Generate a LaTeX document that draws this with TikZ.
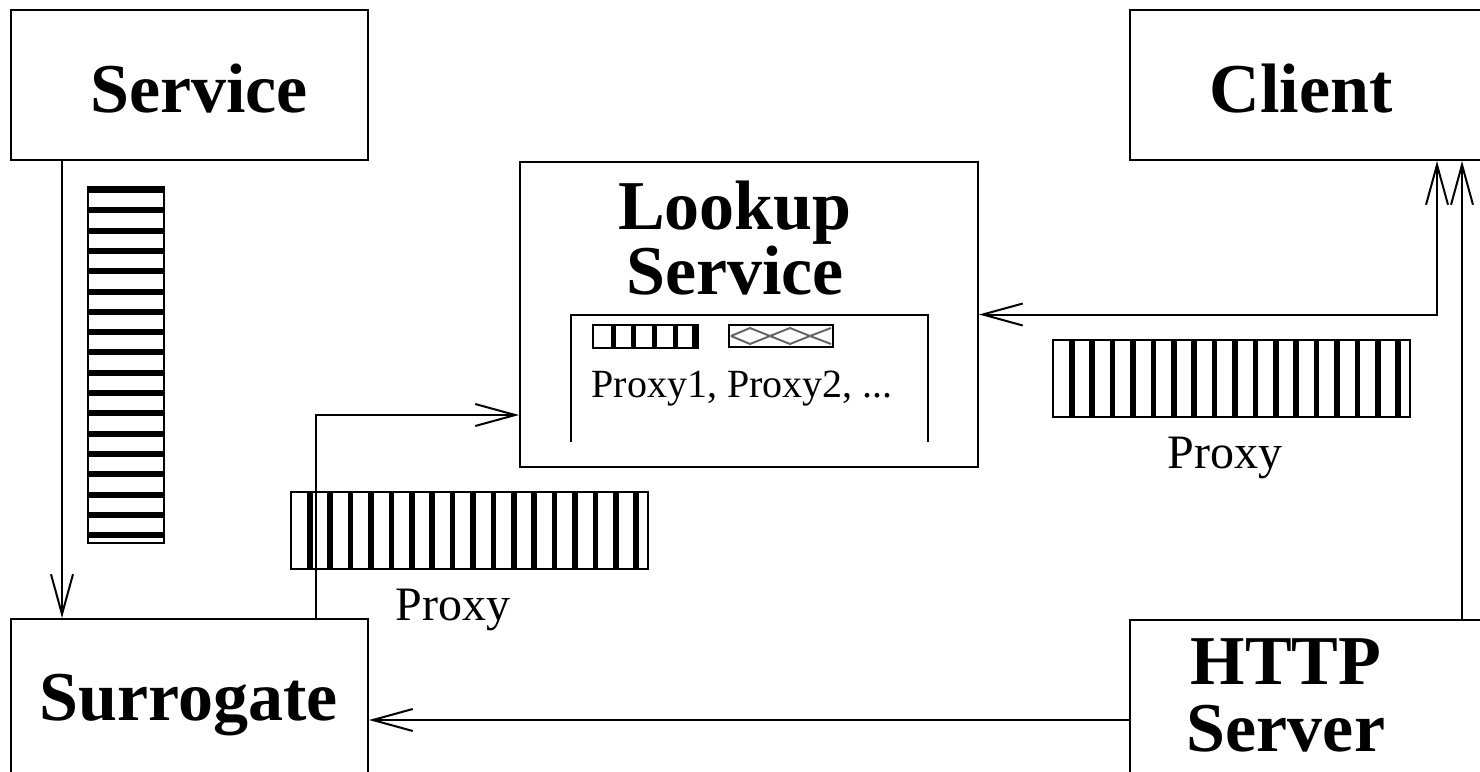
\documentclass[tikz,border=0pt]{standalone}
\usepackage{fontspec}
\setmainfont{Liberation Serif}
\usetikzlibrary{arrows.meta, positioning}

\begin{document}
\begin{tikzpicture}[
      x=1pt, y=-1pt,
      >={Straight Barb[length=40pt,width=22pt]},
      line width=2pt,
      box/.style = {
        draw,
        inner sep=0pt
      },
      title/.style = {
        inner sep=0pt,
        font=\fontsize{70}{70}\selectfont\bfseries
      },
      lbl/.style = {
        inner sep=0pt,
        font=\fontsize{48}{48}\selectfont
      }
    ]
    \useasboundingbox (0,0) rectangle (1480,771);
    \clip (0,0) rectangle (1480,771);

    \node[box, minimum width=357pt, minimum height=150pt] (service)   at (189.5,85)   {};
    \node[box, minimum width=352pt, minimum height=150pt] (client)    at (1306,85)    {};
    \node[box, minimum width=458pt, minimum height=305pt] (lookup)    at (749,314.5)  {};
    \node[box, minimum width=357pt, minimum height=156pt] (surrogate) at (189.5,697)  {};
    \node[box, minimum width=352pt, minimum height=154pt] (http)      at (1306,697)   {};

    \node[title, anchor=base] (servicetxt)   at (199,112)  {Service};
    \node[title, anchor=base] (clienttxt)    at (1301,112) {Client};
    \node[title, anchor=base] (surrogatetxt) at (189,720)  {Surrogate};
    \node[title, anchor=north, align=center, font=\fontsize{70}{55}\selectfont\bfseries]
      (lookuptxt) at (735,180) {Lookup\\Service};
    \node[title, anchor=north, align=center, font=\fontsize{70}{67}\selectfont\bfseries]
      (httptxt) at (1286,638) {HTTP\\Server};

    % registry inside the lookup service
    \draw (571,442) -- (571,315) -- (928,315) -- (928,442);
    \draw (593,325) rectangle (698,348);
    \foreach \sx in {613,633,654,675}
      \draw[line width=5pt] (\sx,325) -- (\sx,348);
    \fill (692,325) rectangle (698,348);
    \draw (729,325) rectangle (833,347);
    \draw[black!60, line width=2pt] (731,336) -- (750,328) -- (770,336) -- (790,344) -- (810,336) -- (831,328);
    \draw[black!60, line width=2pt] (731,336) -- (750,344) -- (770,336) -- (790,328) -- (810,336) -- (831,344);
    \node[anchor=base, inner sep=0pt, font=\fontsize{40}{40}\selectfont]
      (proxylist) at (742,397) {Proxy1, Proxy2, ...};

    % service code stream
    \draw (88,187) rectangle (164,543);
    \foreach \k in {0,...,17}
      \fill (88,{187+\k*20.3}) rectangle (164,{193+\k*20.3});

    % proxy objects
    \foreach \bx/\by in {291/492, 1053/340} {
      \draw (\bx,\by) rectangle ++(357,77);
      \foreach \k in {0,...,16}
        \fill ({\bx+16+\k*20.4},\by) rectangle ++(5.5,77);
    }
    \node[lbl, anchor=base] (proxyAlbl) at (453,620)  {Proxy};
    \node[lbl, anchor=base] (proxyBlbl) at (1225,468) {Proxy};

    \draw[->] ([xshift=-127.5pt]service.south) -- ([xshift=-127.5pt]surrogate.north);
    \draw[->] ([xshift=126.5pt]surrogate.north) |- ([yshift=-100.5pt]lookup.west);
    \draw[->] ([yshift=-23pt]http.west) -- ([yshift=-23pt]surrogate.east);
    \draw[<->] (lookup.east) -| ([xshift=131pt]client.south);
    \draw[->] ([xshift=156pt]http.north) -- ([xshift=156pt]client.south);

  \end{tikzpicture}
\end{document}
